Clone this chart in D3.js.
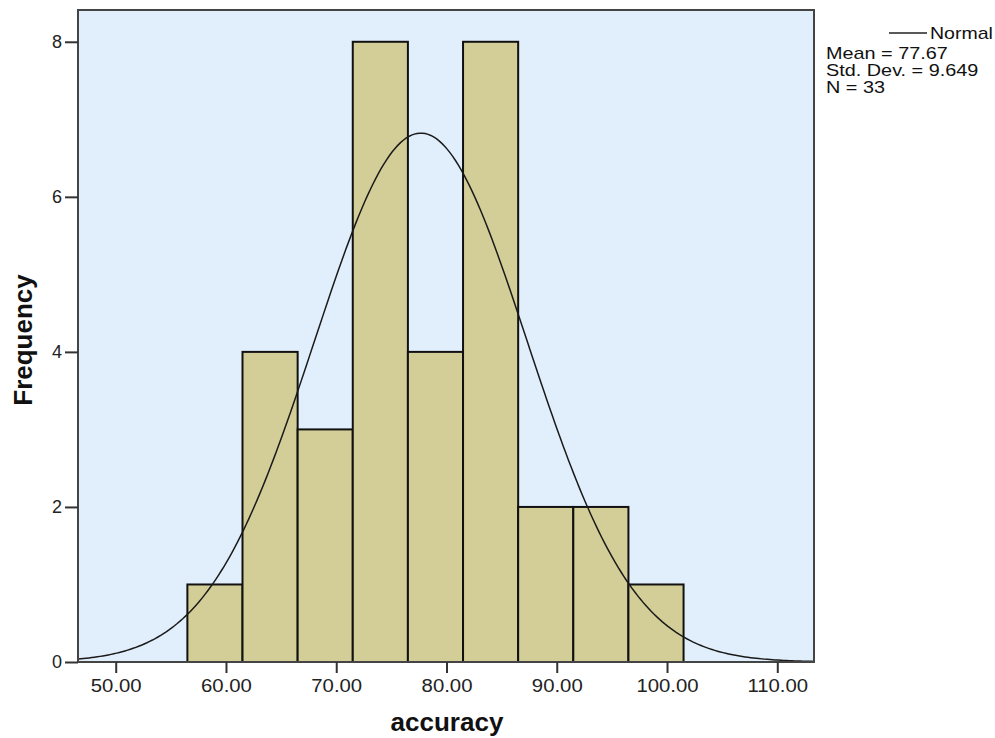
<!DOCTYPE html>
<html>
<head>
<meta charset="utf-8">
<script src="https://cdn.jsdelivr.net/npm/d3@7"></script>
<style>
  body { margin: 0; background: #fff; }
  text { font-family: "Liberation Sans", Arial, sans-serif; }
</style>
</head>
<body>
<svg id="chart" width="995" height="738"></svg>
<script>
// histogram bins (lower edge) and counts
const binStarts = [56.5, 61.5, 66.5, 71.5, 76.5, 81.5, 86.5, 91.5, 96.5];
const binWidth = 5;
const counts = [1, 4, 3, 8, 4, 8, 2, 2, 1];
const xTicks = [50, 60, 70, 80, 90, 100, 110];
const yTicks = [0, 2, 4, 6, 8];
const mean = 77.67;
const sd = 9.649;
const n = 33;
const legendLines = ["Mean = 77.67", "Std. Dev. = 9.649", "N = 33"];

const svg = d3.select('#chart');
const m = {left: 78, top: 10, right: 814, bottom: 662};

const x = d3.scaleLinear().domain([46.58, 113.33]).range([m.left, m.right]);
const y = d3.scaleLinear().domain([0, 8.41]).range([m.bottom, m.top]);

svg.append('rect')
  .attr('x', m.left).attr('y', m.top)
  .attr('width', m.right - m.left).attr('height', m.bottom - m.top)
  .attr('fill', '#e1eefb');

svg.append('g').selectAll('rect')
  .data(counts)
  .enter().append('rect')
  .attr('x', (d, i) => x(binStarts[i]))
  .attr('y', d => y(d))
  .attr('width', (d, i) => x(binStarts[i] + binWidth) - x(binStarts[i]))
  .attr('height', d => y(0) - y(d))
  .attr('fill', '#d3ce97')
  .attr('stroke', '#111')
  .attr('stroke-width', 2);

// normal curve scaled to counts
const pts = d3.range(x.domain()[0], x.domain()[1] + 0.01, 0.25);
const dens = v => n * binWidth / (sd * Math.sqrt(2 * Math.PI)) * Math.exp(-0.5 * ((v - mean) / sd) ** 2);
svg.append('path')
  .datum(pts)
  .attr('fill', 'none')
  .attr('stroke', '#1a1a1a')
  .attr('stroke-width', 1.5)
  .attr('d', d3.line().x(d => x(d)).y(d => y(dens(d))));

// frame
svg.append('rect')
  .attr('x', m.left).attr('y', m.top)
  .attr('width', m.right - m.left).attr('height', m.bottom - m.top)
  .attr('fill', 'none')
  .attr('stroke', '#444')
  .attr('stroke-width', 2);

const xAxis = svg.append('g')
  .attr('transform', `translate(0,${m.bottom})`)
  .call(d3.axisBottom(x).tickValues(xTicks).tickFormat(d3.format('.2f')).tickSize(11).tickPadding(6));
const yAxis = svg.append('g')
  .attr('transform', `translate(${m.left},0)`)
  .call(d3.axisLeft(y).tickValues(yTicks).tickSize(13).tickPadding(3));

[xAxis, yAxis].forEach(g => {
  g.select('.domain').remove();
  g.selectAll('line').attr('stroke', '#333').attr('stroke-width', 2);
  g.selectAll('text').attr('font-size', 18).attr('fill', '#222')
    .attr('font-family', '"Liberation Sans", Arial, sans-serif');
});
// the original labels are a bit wider than the font
xAxis.selectAll('text').attr('transform', 'scale(1.13,1)');

svg.append('text')
  .attr('x', 447).attr('y', 731)
  .attr('text-anchor', 'middle')
  .attr('font-size', 26).attr('font-weight', 'bold')
  .attr('fill', '#111')
  .text('accuracy');

svg.append('text')
  .attr('transform', 'translate(32,340) rotate(-90)')
  .attr('text-anchor', 'middle')
  .attr('font-size', 26).attr('font-weight', 'bold')
  .attr('fill', '#111')
  .text('Frequency');

// legend
const lg = svg.append('g');
lg.append('line')
  .attr('x1', 889).attr('x2', 927).attr('y1', 33).attr('y2', 33)
  .attr('stroke', '#222').attr('stroke-width', 1.5);
lg.append('text')
  .attr('transform', 'translate(930,39) scale(1.22,1)')
  .attr('font-size', 16).attr('fill', '#111').text('Normal');
lg.selectAll('text.stat')
  .data(legendLines)
  .enter().append('text')
  .attr('class', 'stat')
  .attr('transform', (d, i) => `translate(826,${59 + i * 17.2}) scale(1.24,1)`)
  .attr('font-size', 16).attr('fill', '#111')
  .text(d => d);
</script>
</body>
</html>
